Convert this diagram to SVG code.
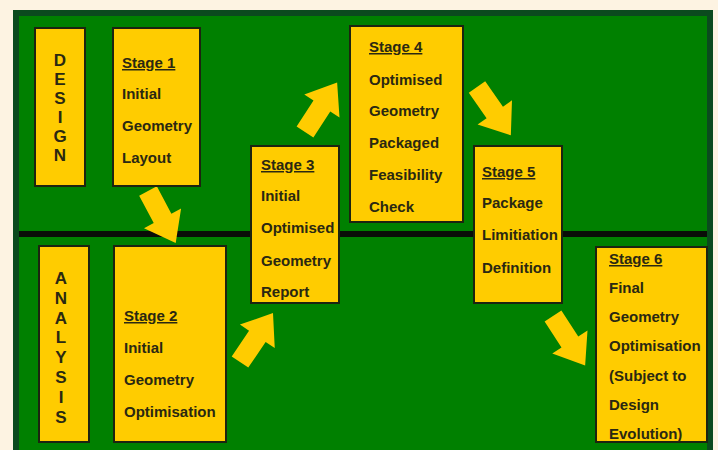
<svg xmlns="http://www.w3.org/2000/svg" width="718" height="450" viewBox="0 0 718 450">
<style>
.box{fill:#ffcc00;stroke:#1c2410;stroke-width:2}
.t{font-family:"Liberation Sans",Arial,sans-serif;font-size:15px;font-weight:bold;fill:#2a2812}
.u{text-decoration:underline}
.v{font-family:"Liberation Sans",Arial,sans-serif;font-size:17px;font-weight:bold;fill:#2a2812;text-anchor:middle}
.arr{fill:#ffcc00}
</style>
<defs>
<path id="arrow" d="M0,-10 L31,-10 L31,-21 L59,0 L31,21 L31,10 L0,10 Z"/>
</defs>
<rect x="0" y="0" width="718" height="450" fill="#fdf3e2"/>
<rect x="16" y="13" width="694" height="445" fill="#008000" stroke="#0b4a1e" stroke-width="6"/>
<rect x="19" y="231" width="688" height="6" fill="#0a0d08"/>

<g id="connectors" class="arr">
<use href="#arrow" transform="translate(148,191) rotate(62)"/>
<use href="#arrow" transform="translate(240,362) rotate(-56)"/>
<use href="#arrow" transform="translate(305,132) rotate(-57)"/>
<use href="#arrow" transform="translate(477,87) rotate(55)"/>
<use href="#arrow" transform="translate(553,316) rotate(57)"/>
</g>

<g id="design">
<rect class="box" x="35" y="28" width="50" height="158"/>
<text class="v" x="60" y="66">D</text>
<text class="v" x="60" y="85">E</text>
<text class="v" x="60" y="104">S</text>
<text class="v" x="60" y="123">I</text>
<text class="v" x="60" y="142">G</text>
<text class="v" x="60" y="161">N</text>
</g>

<g id="analysis">
<rect class="box" x="39" y="246" width="50" height="196"/>
<text class="v" x="61" y="284">A</text>
<text class="v" x="61" y="304">N</text>
<text class="v" x="61" y="324">A</text>
<text class="v" x="61" y="343">L</text>
<text class="v" x="61" y="363">Y</text>
<text class="v" x="61" y="383">S</text>
<text class="v" x="61" y="403">I</text>
<text class="v" x="61" y="423">S</text>
</g>

<g id="stage1">
<rect class="box" x="113" y="28" width="87" height="158"/>
<text class="t u" x="122" y="68">Stage 1</text>
<text class="t" x="122" y="99">Initial</text>
<text class="t" x="122" y="131">Geometry</text>
<text class="t" x="122" y="163">Layout</text>
</g>

<g id="stage2">
<rect class="box" x="114" y="246" width="112" height="196"/>
<text class="t u" x="124" y="321">Stage 2</text>
<text class="t" x="124" y="353">Initial</text>
<text class="t" x="124" y="385">Geometry</text>
<text class="t" x="124" y="417">Optimisation</text>
</g>

<g id="stage3">
<rect class="box" x="251" y="146" width="88" height="157"/>
<text class="t u" x="261" y="170">Stage 3</text>
<text class="t" x="261" y="201">Initial</text>
<text class="t" x="261" y="233">Optimised</text>
<text class="t" x="261" y="266">Geometry</text>
<text class="t" x="261" y="297">Report</text>
</g>

<g id="stage4">
<rect class="box" x="350" y="26" width="113" height="196"/>
<text class="t u" x="369" y="52">Stage 4</text>
<text class="t" x="369" y="85">Optimised</text>
<text class="t" x="369" y="116">Geometry</text>
<text class="t" x="369" y="148">Packaged</text>
<text class="t" x="369" y="180">Feasibility</text>
<text class="t" x="369" y="212">Check</text>
</g>

<g id="stage5">
<rect class="box" x="474" y="146" width="88" height="157"/>
<text class="t u" x="482" y="177">Stage 5</text>
<text class="t" x="482" y="208">Package</text>
<text class="t" x="482" y="240">Limitiation</text>
<text class="t" x="482" y="273">Definition</text>
</g>

<g id="stage6">
<rect class="box" x="596" y="247" width="111" height="195"/>
<text class="t u" x="609" y="264">Stage 6</text>
<text class="t" x="609" y="293">Final</text>
<text class="t" x="609" y="322">Geometry</text>
<text class="t" x="609" y="351">Optimisation</text>
<text class="t" x="609" y="381">(Subject to</text>
<text class="t" x="609" y="410">Design</text>
<text class="t" x="609" y="439">Evolution)</text>
</g>
</svg>
